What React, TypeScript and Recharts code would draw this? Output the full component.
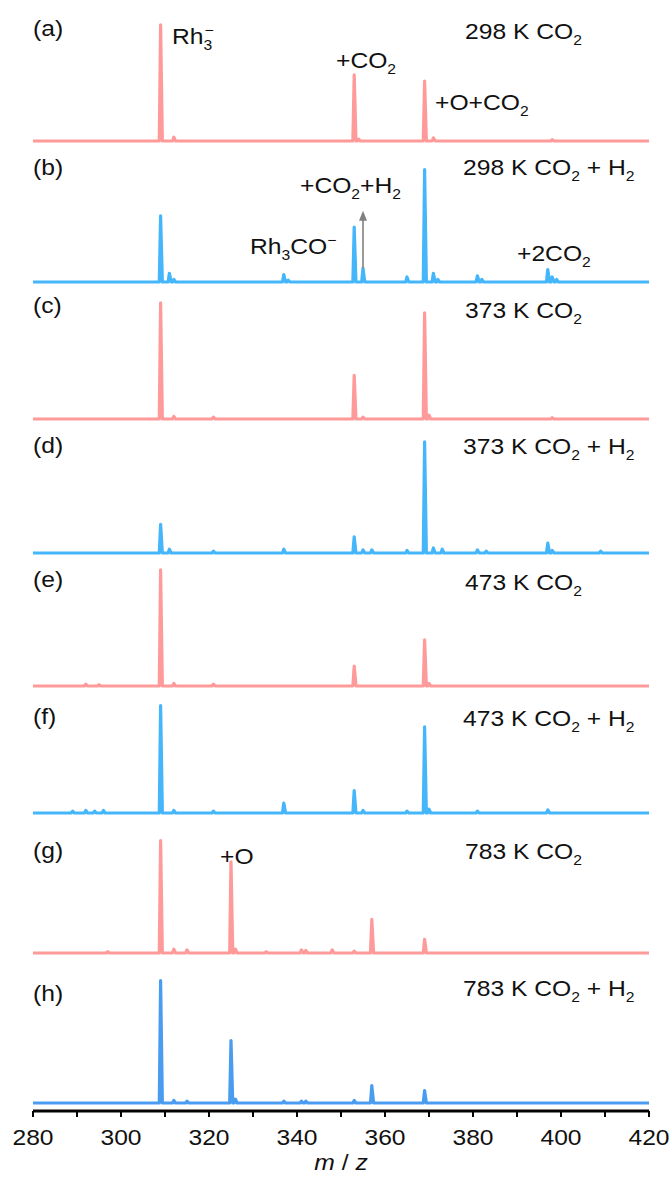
import { Line, LineChart, ReferenceLine, XAxis, YAxis } from 'recharts'
import type { ReactNode } from 'react'

type Peak = [number, number]

// m/z axis
const mzDomain: [number, number] = [280, 420]
const mzTicks = [280, 290, 300, 310, 320, 330, 340, 350, 360, 370, 380, 390, 400, 410, 420]
const mzTickLabels = ['280', '300', '320', '340', '360', '380', '400', '420']

// peak lists: [m/z, relative intensity]
const peaksA: Peak[] = [[309, 93], [312, 3], [353, 53], [354, 1.5], [369, 48], [371, 2.5], [398, 1]]
const peaksB: Peak[] = [
  [309, 53], [311, 7], [312, 2], [337, 6], [338, 1.5], [353, 44], [355, 11], [365, 4],
  [369, 90], [371, 7], [372, 2], [381, 5], [382, 2], [397, 10], [398, 4], [399, 2],
]
const peaksC: Peak[] = [[309, 93], [312, 2], [321, 1.5], [353, 35], [355, 1.5], [369, 85], [370, 3], [398, 1]]
const peaksD: Peak[] = [
  [309, 23], [311, 3], [321, 1.5], [337, 3], [353, 13], [355, 2.5], [357, 2.5], [365, 2],
  [369, 89], [371, 4], [373, 3], [381, 2.5], [383, 1.5], [397, 8], [398, 2], [409, 1.5],
]
const peaksE: Peak[] = [[292, 1.5], [295, 1], [309, 93], [312, 2], [321, 1.5], [353, 16], [369, 37], [370, 2]]
const peaksF: Peak[] = [
  [289, 1.5], [292, 2], [294, 1.5], [296, 2], [309, 86], [312, 2], [321, 1.5], [337, 8],
  [353, 18], [355, 2], [365, 1.5], [369, 69], [370, 3], [381, 1.5], [397, 2.5],
]
const peaksG: Peak[] = [
  [297, 1], [309, 90], [312, 3], [315, 2.5], [325, 73], [326, 3], [333, 1], [341, 2.5],
  [342, 2], [348, 2.5], [353, 1.5], [357, 27], [369, 11],
]
const peaksH: Peak[] = [
  [309, 98], [312, 2], [315, 1.5], [325, 50], [326, 3], [337, 1.5], [341, 1.5], [342, 1.5],
  [353, 2], [357, 14], [369, 10],
]

const rh3CO = 337
const h2Arrow: [number, number] = [11, 57]

const PINK = '#ff9a9a'
const BLUE = '#45b6f9'
const BLUE_DARK = '#4a9cf0'
const FONT = '"Liberation Sans", Arial, Helvetica, sans-serif'

const PLOT_H = 125
const PAD_TOP = 10
const PAD_BOTTOM = 6
const LEFT = 33
const RIGHT = 23
const AXIS_Y = 1111
const AXIS_H = 40
const STRETCH = 1.12

function toSpectrum(peaks: Peak[]) {
  const pts = [{ mz: mzDomain[0], i: 0 }]
  for (const [mz, h] of peaks) {
    pts.push({ mz: mz - 0.3, i: 0 }, { mz, i: h }, { mz: mz + 0.4, i: 0 })
  }
  pts.push({ mz: mzDomain[1], i: 0 })
  return pts
}

function Sub({ children }: { children: ReactNode }) {
  return <span style={{ fontSize: 14, position: 'relative', top: 6 }}>{children}</span>
}

function Minus({ back = 0 }: { back?: number }) {
  return <span style={{ fontSize: 14, position: 'relative', top: -9, marginLeft: -back }}>−</span>
}

function Lbl({ x, cy, children }: { x: number; cy: number; children: ReactNode }) {
  return (
    <div
      style={{
        position: 'absolute',
        left: x,
        top: cy - 12,
        fontSize: 22,
        lineHeight: '22px',
        fontFamily: FONT,
        color: '#111',
        whiteSpace: 'nowrap',
        transform: `scaleX(${STRETCH})`,
        transformOrigin: 'left center',
      }}
    >
      {children}
    </div>
  )
}

function ArrowShape(p: any) {
  const { x1, y1, x2, y2 } = p
  return (
    <g>
      <line x1={x1} y1={y1} x2={x2} y2={y2 + 9} stroke="#808080" strokeWidth={1.6} />
      <polygon points={`${x2 - 4},${y2 + 10} ${x2 + 4},${y2 + 10} ${x2},${y2}`} fill="#808080" />
    </g>
  )
}

function MzTick(p: any) {
  const { x, y, payload } = p
  const label = String(payload.value)
  if (!mzTickLabels.includes(label)) return null
  return (
    <text
      transform={`translate(${x} ${y + 28}) scale(${STRETCH} 1)`}
      textAnchor="middle"
      fontSize={22}
      fontFamily={FONT}
      fill="#111"
    >
      {label}
    </text>
  )
}

interface PanelProps {
  peaks: Peak[]
  color: string
  baseline: number
  arrow?: boolean
}

function Panel({ peaks, color, baseline, arrow }: PanelProps) {
  return (
    <div style={{ position: 'absolute', left: 0, top: baseline - PLOT_H - PAD_TOP }}>
      <LineChart
        width={672}
        height={PLOT_H + PAD_TOP + PAD_BOTTOM}
        data={toSpectrum(peaks)}
        margin={{ top: PAD_TOP, right: RIGHT, bottom: PAD_BOTTOM, left: LEFT }}
      >
        <XAxis dataKey="mz" type="number" domain={mzDomain} hide />
        <YAxis type="number" domain={[0, 100]} hide />
        <Line
          type="linear"
          dataKey="i"
          stroke={color}
          strokeWidth={3.2}
          strokeLinejoin="round"
          dot={false}
          isAnimationActive={false}
        />
        {arrow && (
          <ReferenceLine
            segment={[{ x: 355, y: h2Arrow[0] }, { x: 355, y: h2Arrow[1] }]}
            shape={ArrowShape}
          />
        )}
      </LineChart>
    </div>
  )
}

export default function App() {
  return (
    <div style={{ position: 'absolute', left: 0, top: 0, width: 672, height: 1177, background: '#fff', fontFamily: FONT }}>
      <div style={{ position: 'absolute', left: 0, top: 0 }}>
        <LineChart
          width={672}
          height={1177}
          data={mzDomain.map((mz) => ({ mz }))}
          margin={{ top: 262, right: RIGHT, bottom: 1177 - AXIS_Y - AXIS_H, left: LEFT }}
        >
          <XAxis
            dataKey="mz"
            type="number"
            domain={mzDomain}
            ticks={mzTicks}
            interval={0}
            height={AXIS_H}
            axisLine={{ stroke: '#000', strokeWidth: 3 }}
            tickLine={{ stroke: '#000', strokeWidth: 2 }}
            tickSize={6}
            tickMargin={0}
            tick={<MzTick />}
          />
          <YAxis type="number" domain={[0, 1]} hide />
          <ReferenceLine x={rh3CO} stroke="#9a9a9a" strokeWidth={1.5} strokeDasharray="1.5 3" />
        </LineChart>
      </div>

      <Panel peaks={peaksA} color={PINK} baseline={141} />
      <Panel peaks={peaksB} color={BLUE} baseline={282} arrow />
      <Panel peaks={peaksC} color={PINK} baseline={419} />
      <Panel peaks={peaksD} color={BLUE} baseline={553} />
      <Panel peaks={peaksE} color={PINK} baseline={686} />
      <Panel peaks={peaksF} color={BLUE} baseline={813} />
      <Panel peaks={peaksG} color={PINK} baseline={953} />
      <Panel peaks={peaksH} color={BLUE_DARK} baseline={1103} />

      <Lbl x={33} cy={30}>(a)</Lbl>
      <Lbl x={172} cy={38}>Rh<Sub>3</Sub><Minus back={7} /></Lbl>
      <Lbl x={465} cy={33}>298 K CO<Sub>2</Sub></Lbl>
      <Lbl x={336} cy={62}>+CO<Sub>2</Sub></Lbl>
      <Lbl x={435} cy={104}>+O+CO<Sub>2</Sub></Lbl>

      <Lbl x={33} cy={169}>(b)</Lbl>
      <Lbl x={463} cy={169}>298 K CO<Sub>2</Sub> + H<Sub>2</Sub></Lbl>
      <Lbl x={300} cy={187}>+CO<Sub>2</Sub>+H<Sub>2</Sub></Lbl>
      <Lbl x={250} cy={248}>Rh<Sub>3</Sub>CO<Minus /></Lbl>
      <Lbl x={517} cy={255}>+2CO<Sub>2</Sub></Lbl>

      <Lbl x={33} cy={307}>(c)</Lbl>
      <Lbl x={465} cy={312}>373 K CO<Sub>2</Sub></Lbl>

      <Lbl x={33} cy={447}>(d)</Lbl>
      <Lbl x={463} cy={448}>373 K CO<Sub>2</Sub> + H<Sub>2</Sub></Lbl>

      <Lbl x={33} cy={581}>(e)</Lbl>
      <Lbl x={465} cy={584}>473 K CO<Sub>2</Sub></Lbl>

      <Lbl x={33} cy={718}>(f)</Lbl>
      <Lbl x={463} cy={720}>473 K CO<Sub>2</Sub> + H<Sub>2</Sub></Lbl>

      <Lbl x={33} cy={852}>(g)</Lbl>
      <Lbl x={220} cy={858}>+O</Lbl>
      <Lbl x={465} cy={853}>783 K CO<Sub>2</Sub></Lbl>

      <Lbl x={33} cy={995}>(h)</Lbl>
      <Lbl x={463} cy={990}>783 K CO<Sub>2</Sub> + H<Sub>2</Sub></Lbl>

      <div
        style={{
          position: 'absolute',
          left: 341,
          top: 1152,
          fontSize: 22,
          lineHeight: '22px',
          fontFamily: FONT,
          color: '#111',
          whiteSpace: 'nowrap',
          transform: `translateX(-50%) scaleX(${STRETCH})`,
          transformOrigin: 'center',
        }}
      >
        <i>m</i> / <i>z</i>
      </div>
    </div>
  )
}
